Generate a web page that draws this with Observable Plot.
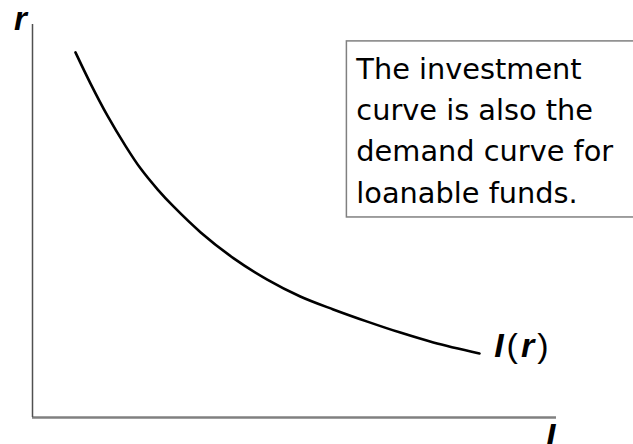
<!DOCTYPE html>
<html>
<head>
<meta charset="utf-8">
<script src="https://cdn.jsdelivr.net/npm/d3@7"></script>
<script src="https://cdn.jsdelivr.net/npm/@observablehq/plot@0.6"></script>
<style>
  html, body { margin: 0; padding: 0; background: #ffffff; }
  #chart svg { display: block; }
</style>
</head>
<body>
<div id="chart"></div>
<script>
// Investment demand curve I(r): investment (x) against real interest rate (y), arbitrary units 0-100
const investment = [8.2, 11.1, 14.3, 17.8, 20.6, 23.9, 26.9, 32.1, 38.4, 44.8, 51.1, 57.4, 63.9, 70.2, 76.5, 85.3];
const interestRate = [92.9, 84.9, 76.8, 69.0, 63.4, 58.0, 53.7, 47.1, 40.5, 35.1, 30.8, 27.5, 24.4, 21.6, 19.1, 16.3];

const xAxisLabel = "I";
const yAxisLabel = "r";
const curveLabelParts = [
  {text: "I", emph: true},
  {text: "(", emph: false},
  {text: "r", emph: true},
  {text: ")", emph: false}
];
const noteLines = ["The investment", "curve is also the", "demand curve for", "loanable funds."];

const curve = investment.map((v, i) => ({I: v, r: interestRate[i]}));

// annotation anchors in data units
const noteBox = {x1: 60.0, x2: 125, y1: 50.9, y2: 95.7};
const noteAnchor = {x: 61.8, y: 54.7};
const curveLabelAnchor = {x: 88.2, y: 15.3};
const yLabelAnchor = {x: -2.3, y: 98.5};
const xLabelAnchor = {x: 98.9, y: -7.4};

const labelFont = "'Liberation Sans', Arial, sans-serif";

const chart = Plot.plot({
  width: 633,
  height: 444,
  marginLeft: 32,
  marginRight: 77,
  marginTop: 24,
  marginBottom: 27,
  x: {domain: [0, 100], axis: null},
  y: {domain: [0, 100], axis: null},
  style: {background: "#ffffff", overflow: "visible"},
  marks: [
    Plot.ruleY([0], {x1: 0, x2: 100, stroke: "#808080", strokeWidth: 2.5}),
    Plot.ruleX([0], {y1: 0, y2: 100, stroke: "#505050", strokeWidth: 1.5}),
    Plot.line(curve, {x: "I", y: "r", curve: "catmull-rom", stroke: "#000000", strokeWidth: 2.6}),
    Plot.rect([noteBox], {x1: "x1", x2: "x2", y1: "y1", y2: "y2", fill: "#ffffff", stroke: "#808080", strokeWidth: 1.5}),
    Plot.text([noteLines.join("\n")], {
      x: () => noteAnchor.x, y: () => noteAnchor.y, text: d => d,
      textAnchor: "start", lineAnchor: "bottom", lineHeight: 1.43,
      fontSize: 28.8, fontFamily: "'DejaVu Sans', sans-serif", fill: "#000000"
    }),
    Plot.text([yAxisLabel], {
      x: () => yLabelAnchor.x, y: () => yLabelAnchor.y, text: d => d,
      textAnchor: "middle", lineAnchor: "bottom",
      fontSize: 33, fontWeight: "bold", fontStyle: "italic", fontFamily: labelFont, fill: "#000000"
    }),
    Plot.text([xAxisLabel], {
      x: () => xLabelAnchor.x, y: () => xLabelAnchor.y, text: d => d,
      textAnchor: "middle", lineAnchor: "bottom",
      fontSize: 34, fontWeight: "bold", fontStyle: "italic", fontFamily: labelFont, fill: "#000000"
    }),
    (index, scales) => {
      const t = d3.create("svg:text")
        .attr("x", scales.x(curveLabelAnchor.x))
        .attr("y", scales.y(curveLabelAnchor.y))
        .attr("text-anchor", "start")
        .attr("font-family", labelFont)
        .attr("font-size", 34)
        .attr("letter-spacing", 3)
        .attr("fill", "#000000");
      curveLabelParts.forEach(p => {
        t.append("tspan")
          .attr("font-weight", p.emph ? "bold" : "normal")
          .attr("font-style", p.emph ? "italic" : "normal")
          .text(p.text);
      });
      return t.node();
    }
  ]
});

document.getElementById("chart").appendChild(chart);
</script>
</body>
</html>
